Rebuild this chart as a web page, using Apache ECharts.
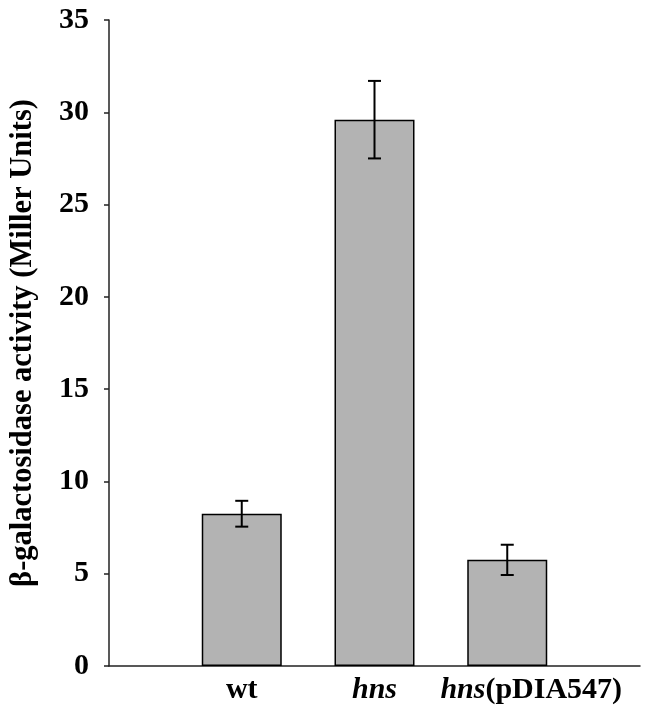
<!DOCTYPE html>
<html>
<head>
<meta charset="utf-8">
<script src="https://cdn.jsdelivr.net/npm/echarts@6/dist/echarts.min.js"></script>
<style>html,body{margin:0;padding:0;background:#fff}#c{width:650px;height:712px}</style>
</head>
<body>
<div id="c"></div>
<script>
var categories = ['', 'wt', 'hns', 'hns(pDIA547)', ''];
var values = ['-', 8.25, 29.6, 5.75, '-'];
var errors = [0, 0.7, 2.1, 0.82, 0];
var yTicks = [0, 5, 10, 15, 20, 25, 30, 35];

var FONT = '"Liberation Serif", "Times New Roman", serif';
var FS = 30;
var chart = echarts.init(document.getElementById('c'));

var errData = [];
for (var i = 0; i < categories.length; i++) {
  if (values[i] !== '-') errData.push([i, values[i] - errors[i], values[i] + errors[i]]);
}

chart.setOption({
  animation: false,
  grid: { left: 108, right: 10, top: 20, bottom: 46, containLabel: false },
  xAxis: {
    type: 'category',
    data: categories,
    boundaryGap: false,
    axisLine: { lineStyle: { color: '#222', width: 1.5 } },
    axisTick: { show: false },
    axisLabel: {
      margin: 9,
      interval: 0,
      fontFamily: FONT, fontSize: FS, fontWeight: 'bold', color: '#000',
      formatter: function (v) {
        if (v === 'hns') return '{i|hns}';
        if (v === 'hns(pDIA547)') return '{i2|hns}{n|(pDIA547)}';
        return v;
      },
      rich: {
        i: { fontFamily: FONT, fontSize: FS, fontWeight: 'bold', fontStyle: 'italic', color: '#000' },
        i2: { fontFamily: FONT, fontSize: FS, fontWeight: 'bold', fontStyle: 'italic', color: '#000', padding: [0, 0, 0, 48] },
        n: { fontFamily: FONT, fontSize: FS, fontWeight: 'bold', color: '#000' }
      }
    }
  },
  yAxis: {
    type: 'value',
    min: yTicks[0], max: yTicks[yTicks.length - 1], interval: 5,
    name: 'β-galactosidase activity (Miller Units)',
    nameLocation: 'middle',
    nameGap: 70,
    nameTextStyle: { fontFamily: FONT, fontSize: 30.5, fontWeight: 'bold', color: '#000' },
    axisLine: { show: true, lineStyle: { color: '#222', width: 1.5 } },
    axisTick: { show: true, length: 5, lineStyle: { color: '#222', width: 1.5 } },
    splitLine: { show: false },
    axisLabel: { margin: 20, fontFamily: FONT, fontSize: FS, fontWeight: 'bold', color: '#000' }
  },
  series: [
    {
      type: 'bar',
      data: values,
      barWidth: 80,
      itemStyle: { color: '#b3b3b3', borderColor: '#000', borderWidth: 1.5 }
    },
    {
      type: 'custom',
      data: errData,
      z: 10,
      renderItem: function (params, api) {
        var x = api.value(0);
        var lo = api.coord([x, api.value(1)]);
        var hi = api.coord([x, api.value(2)]);
        var hw = 6.5;
        var st = { stroke: '#000', lineWidth: 2 };
        return {
          type: 'group',
          children: [
            { type: 'line', shape: { x1: lo[0], y1: lo[1], x2: hi[0], y2: hi[1] }, style: st },
            { type: 'line', shape: { x1: lo[0] - hw, y1: lo[1], x2: lo[0] + hw, y2: lo[1] }, style: st },
            { type: 'line', shape: { x1: hi[0] - hw, y1: hi[1], x2: hi[0] + hw, y2: hi[1] }, style: st }
          ]
        };
      }
    }
  ]
});
</script>
</body>
</html>
